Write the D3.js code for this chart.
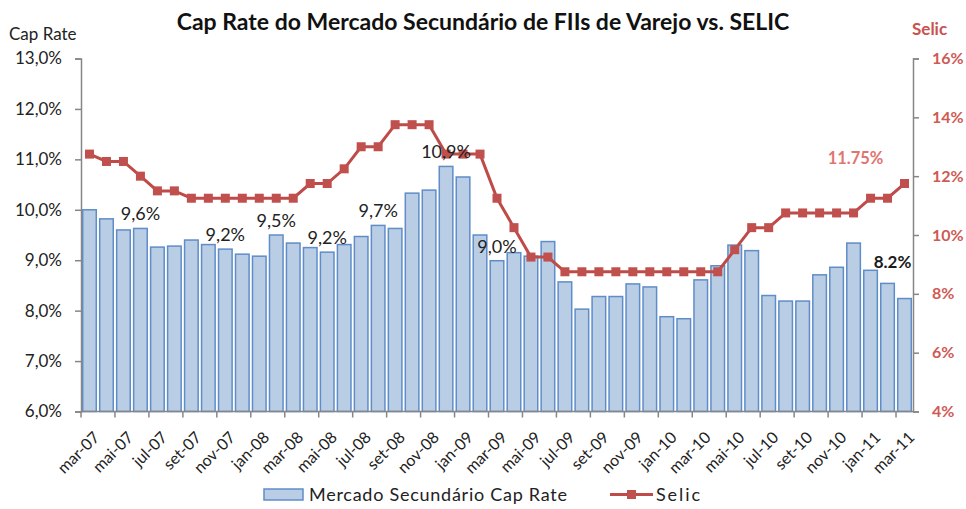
<!DOCTYPE html>
<html>
<head>
<meta charset="utf-8">
<script src="https://cdn.jsdelivr.net/npm/d3@7"></script>
<style>
  body { margin: 0; background: #fff; }
  svg { display: block; font-family: Lato, "Open Sans", sans-serif; }
</style>
</head>
<body>
<svg id="chart" width="966" height="509"></svg>
<script>
let months = [
    "mar-07", "abr-07", "mai-07", "jun-07", "jul-07", "ago-07", "set-07", "out-07", "nov-07", "dez-07",
    "jan-08", "fev-08", "mar-08", "abr-08", "mai-08", "jun-08", "jul-08", "ago-08", "set-08", "out-08",
    "nov-08", "dez-08", "jan-09", "fev-09", "mar-09", "abr-09", "mai-09", "jun-09", "jul-09", "ago-09",
    "set-09", "out-09", "nov-09", "dez-09", "jan-10", "fev-10", "mar-10", "abr-10", "mai-10", "jun-10",
    "jul-10", "ago-10", "set-10", "out-10", "nov-10", "dez-10", "jan-11", "fev-11", "mar-11"
];

let capRate = [
    10.0, 9.82, 9.60, 9.63, 9.26, 9.28, 9.40, 9.31, 9.22, 9.12,
    9.08, 9.50, 9.34, 9.25, 9.16, 9.31, 9.47, 9.69, 9.63, 10.33,
    10.39, 10.86, 10.65, 9.50, 8.99, 9.15, 9.08, 9.37, 8.57, 8.03,
    8.28, 8.28, 8.53, 8.47, 7.88, 7.84, 8.61, 8.89, 9.30, 9.19,
    8.30, 8.19, 8.19, 8.71, 8.86, 9.34, 8.80, 8.54, 8.24
];

let selic = [
    12.75, 12.5, 12.5, 12.0, 11.5, 11.5, 11.25, 11.25, 11.25, 11.25,
    11.25, 11.25, 11.25, 11.75, 11.75, 12.25, 13.0, 13.0, 13.75, 13.75,
    13.75, 12.75, 12.75, 12.75, 11.25, 10.25, 9.25, 9.25, 8.75, 8.75,
    8.75, 8.75, 8.75, 8.75, 8.75, 8.75, 8.75, 8.75, 9.5, 10.25,
    10.25, 10.75, 10.75, 10.75, 10.75, 10.75, 11.25, 11.25, 11.75
];

// months that carry a value label above the bar
let labelledMonths = ["jun-07", "nov-07", "fev-08", "mai-08", "ago-08", "dez-08", "mar-09"];

let leftTicks = [6, 7, 8, 9, 10, 11, 12, 13];
let rightTicks = [4, 6, 8, 10, 12, 14, 16];

let titleText = "Cap Rate do Mercado Secundário de FIIs de Varejo vs. SELIC";
let barName = "Mercado Secundário Cap Rate";
let lineName = "Selic";

let rows = months.map((m, i) => ({ month: m, cap: capRate[i], selic: selic[i] }));

let svg = d3.select("#chart");
let plotLeft = 81, plotRight = 913, plotTop = 58.5, plotBottom = 411.5;

let x = d3.scaleBand()
    .domain(months)
    .range([plotLeft, plotRight])
    .paddingInner(0.2)
    .paddingOuter(0.1);

let yLeft = d3.scaleLinear().domain([6, 13]).range([plotBottom, plotTop]);
let yRight = d3.scaleLinear().domain([4, 16]).range([plotBottom, plotTop]);

let commaPct = (v) => d3.format(".1f")(v).replace(".", ",") + "%";

// title and axis captions
svg.append("text")
    .attr("x", 483).attr("y", 30)
    .attr("text-anchor", "middle")
    .attr("font-size", 23).attr("font-weight", "bold")
    .attr("fill", "#111")
    .text(titleText);

svg.append("text")
    .attr("x", 9).attr("y", 40)
    .attr("font-size", 17).attr("fill", "#222")
    .text("Cap Rate");

svg.append("text")
    .attr("x", 912).attr("y", 35)
    .attr("font-size", 17).attr("font-weight", "bold")
    .attr("fill", "#C9524E")
    .text("Selic");

// bars
svg.append("g").selectAll("rect")
    .data(rows)
    .enter()
    .append("rect")
    .attr("x", (d) => x(d.month))
    .attr("y", (d) => yLeft(d.cap))
    .attr("width", x.bandwidth())
    .attr("height", (d) => plotBottom - yLeft(d.cap))
    .attr("fill", "#B9CDE5")
    .attr("stroke", "#5F8DC8")
    .attr("stroke-width", 1.5);

// left axis
let axisL = svg.append("g")
    .attr("transform", `translate(${plotLeft},0)`)
    .call(d3.axisLeft(yLeft).tickValues(leftTicks).tickSize(6).tickPadding(13)
        .tickFormat(commaPct));
axisL.select(".domain").attr("stroke", "#868686").attr("stroke-width", 1.5);
axisL.selectAll(".tick line").attr("stroke", "#868686").attr("stroke-width", 1.5);
axisL.selectAll(".tick text")
    .attr("font-size", 17).attr("fill", "#222")
    .attr("font-family", "Lato, 'Open Sans', sans-serif");

// right axis
let axisR = svg.append("g")
    .attr("transform", `translate(${plotRight},0)`)
    .call(d3.axisRight(yRight).tickValues(rightTicks).tickSize(6).tickPadding(13)
        .tickFormat((v) => v + "%"));
axisR.select(".domain").attr("stroke", "#868686").attr("stroke-width", 1.5);
axisR.selectAll(".tick line").attr("stroke", "#868686").attr("stroke-width", 1.5);
axisR.selectAll(".tick text")
    .attr("font-size", 16).attr("font-weight", "bold").attr("fill", "#CF5A55")
    .attr("font-family", "Lato, 'Open Sans', sans-serif");

// bottom axis: ticks between every second month, labels on every second month
let step = x.step();
let everyOther = months.filter((m, i) => i % 2 === 0);
let axisB = svg.append("g");
axisB.append("line")
    .attr("x1", plotLeft).attr("x2", plotRight)
    .attr("y1", plotBottom).attr("y2", plotBottom)
    .attr("stroke", "#868686").attr("stroke-width", 1.5);
axisB.selectAll("line.tick")
    .data(everyOther)
    .enter()
    .append("line")
    .attr("class", "tick")
    .attr("x1", (m) => x(m) - step * x.paddingInner() / 2)
    .attr("x2", (m) => x(m) - step * x.paddingInner() / 2)
    .attr("y1", plotBottom).attr("y2", plotBottom + 6)
    .attr("stroke", "#868686").attr("stroke-width", 1.5);
axisB.selectAll("text")
    .data(everyOther)
    .enter()
    .append("text")
    .attr("transform", (m) => `translate(${x(m) + x.bandwidth() / 2 + 7},${plotBottom + 23}) rotate(-45)`)
    .attr("text-anchor", "end")
    .attr("dy", "0.35em")
    .attr("font-size", 16).attr("fill", "#222")
    .text((m) => m);

// selic line
let line = d3.line()
    .x((d) => x(d.month) + x.bandwidth() / 2)
    .y((d) => yRight(d.selic));

svg.append("path")
    .datum(rows)
    .attr("d", line)
    .attr("fill", "none")
    .attr("stroke", "#BE4B48")
    .attr("stroke-width", 3);

svg.append("g").selectAll("rect")
    .data(rows)
    .enter()
    .append("rect")
    .attr("x", (d) => x(d.month) + x.bandwidth() / 2 - 4.5)
    .attr("y", (d) => yRight(d.selic) - 4.5)
    .attr("width", 9).attr("height", 9)
    .attr("fill", "#C0504D");

// bar value labels
let labelled = rows.filter((d) => labelledMonths.includes(d.month));
svg.append("g").selectAll("text")
    .data(labelled)
    .enter()
    .append("text")
    .attr("x", (d) => x(d.month) + x.bandwidth() / 2)
    .attr("y", (d) => yLeft(d.cap) - 8)
    .attr("text-anchor", "middle")
    .attr("font-size", 18).attr("fill", "#222")
    .text((d) => commaPct(d.cap));

// callouts for the latest values
let last = rows[rows.length - 1];
let lastX = x(last.month) + x.bandwidth() / 2;
svg.append("text")
    .attr("x", lastX - 49).attr("y", yRight(last.selic) - 20)
    .attr("text-anchor", "middle")
    .attr("font-size", 16.5).attr("font-weight", "bold").attr("fill", "#E07470")
    .text(d3.format(".2f")(last.selic) + "%");
svg.append("text")
    .attr("x", lastX - 12).attr("y", yLeft(last.cap) - 31)
    .attr("text-anchor", "middle")
    .attr("font-size", 17).attr("font-weight", "bold").attr("fill", "#1a1a1a")
    .text(d3.format(".1f")(last.cap) + "%");

// legend
let legend = svg.append("g");
legend.append("rect")
    .attr("x", 264).attr("y", 489).attr("width", 39).attr("height", 11)
    .attr("fill", "#B9CDE5").attr("stroke", "#5F8DC8").attr("stroke-width", 1.5);
legend.append("text")
    .attr("x", 309).attr("y", 501)
    .attr("font-size", 18).attr("fill", "#222")
    .attr("textLength", 258).attr("lengthAdjust", "spacing")
    .text(barName);
legend.append("line")
    .attr("x1", 610).attr("x2", 653).attr("y1", 494.5).attr("y2", 494.5)
    .attr("stroke", "#BE4B48").attr("stroke-width", 3);
legend.append("rect")
    .attr("x", 627).attr("y", 490).attr("width", 9).attr("height", 9)
    .attr("fill", "#C0504D");
legend.append("text")
    .attr("x", 656).attr("y", 501)
    .attr("font-size", 18).attr("fill", "#222")
    .attr("textLength", 44).attr("lengthAdjust", "spacing")
    .text(lineName);
</script>
</body>
</html>
